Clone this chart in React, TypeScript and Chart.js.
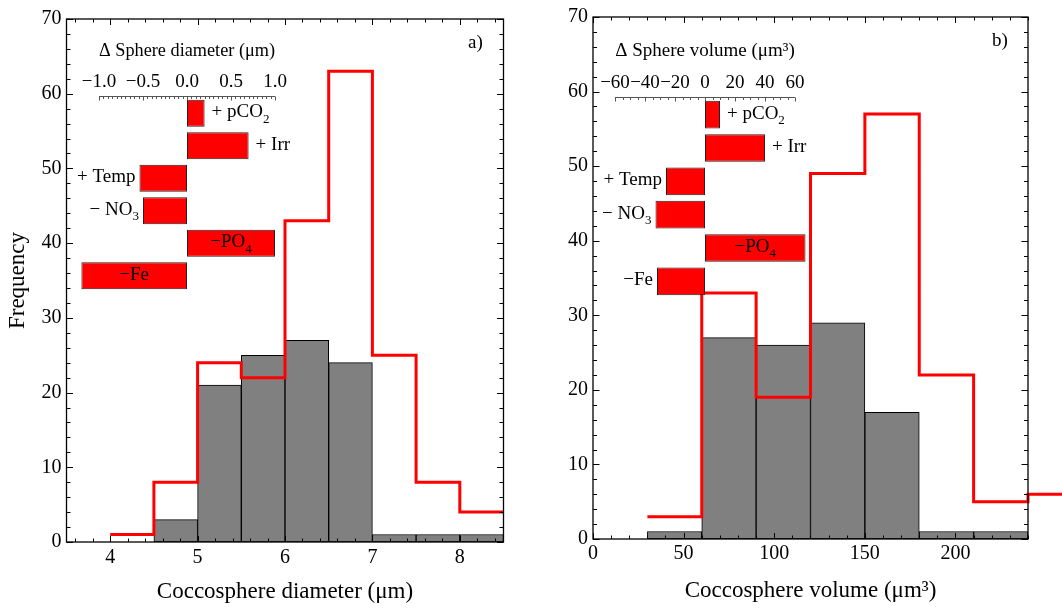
import React, { useEffect, useRef } from 'react';
import { Chart, registerables } from 'chart.js';

Chart.register(...registerables);

const SERIF = '"Liberation Serif", "Times New Roman", serif';

// ---------- Panel a: coccosphere diameter ----------
const diamBinCenters = [4.75, 5.25, 5.75, 6.25, 6.75, 7.25, 7.75, 8.25];
const diamObserved = [3, 21, 25, 27, 24, 1, 1, 1];
const diamModelEdges = [4, 4.5, 5, 5.5, 6, 6.5, 7, 7.5, 8, 8.5];
const diamModel = [1, 8, 24, 22, 43, 63, 25, 8, 4];
const diamXTicks = [4, 5, 6, 7, 8];

// ---------- Panel b: coccosphere volume ----------
const volBinCenters = [45, 75, 105, 135, 165, 195, 225];
const volObserved = [1, 27, 26, 29, 17, 1, 1];
const volModelEdges = [30, 60, 90, 120, 150, 180, 210, 240, 270];
const volModel = [3, 33, 19, 49, 57, 22, 5, 6];
const volXTicks = [0, 50, 100, 150, 200];

const freqTicks = [0, 10, 20, 30, 40, 50, 60, 70];

// ---------- Insets: sensitivity to treatments ----------
const treatments = ['+ pCO_2', '+ Irr', '+ Temp', '− NO_3', '−PO_4', '−Fe'];
const deltaDiameter = [0.2, 0.7, -0.54, -0.5, 1.0, -1.2];
const deltaVolume = [10, 40, -26, -33, 67, -32];
const deltaDiamTicks = [-1, -0.5, 0, 0.5, 1];
const deltaDiamTickLabels = ['−1.0', '−0.5', '0.0', '0.5', '1.0'];
const deltaVolTicks = [-60, -40, -20, 0, 20, 40, 60];
const deltaVolTickLabels = ['−60', '−40', '−20', '0', '20', '40', '60'];
const diamLabelSide = ['right', 'right', 'left', 'left', 'inside', 'inside'];
const volLabelSide = ['right', 'right', 'left', 'left', 'inside', 'left'];

// ---------- layout (positions / sizes) ----------
const layoutA = {
  left: 0, width: 531, height: 608,
  area: { l: 66.5, t: 19, r: 503.5, b: 542 },
  xMin: 3.5, xMax: 8.5, xMinor: 0.2, yMinor: 2,
  xTickPad: 4, xTitlePad: 2, panel: 'a)',
};
const layoutB = {
  left: 531, width: 531, height: 608,
  area: { l: 62, t: 16, r: 497, b: 539 },
  xMin: 0, xMax: 240.001, xMinor: 10, yMinor: 2,
  xTickPad: 3, xTitlePad: 3, panel: 'b)',
};
const insetA = {
  left: 60, top: 30, width: 280, height: 275,
  area: { l: 99, t: 97, r: 275, b: 292 },
  min: -1, max: 1, minor: 0.05,
};
const insetB = {
  left: 585, top: 30, width: 260, height: 280,
  area: { l: 615, t: 98, r: 795, b: 298 },
  min: -60, max: 60, minor: 5,
};
const INSET_FONT = 19;

function drawRich(ctx: any, text: string, x: number, y: number, align: string, size: number) {
  const parts = text.split('_');
  const segs: { t: string; sub: boolean }[] = [{ t: parts[0], sub: false }];
  for (let i = 1; i < parts.length; i++) {
    segs.push({ t: parts[i][0], sub: true });
    if (parts[i].length > 1) segs.push({ t: parts[i].slice(1), sub: false });
  }
  const subSize = Math.round(size * 0.7);
  const fontOf = (s: boolean) => `${s ? subSize : size}px ${SERIF}`;
  let total = 0;
  const widths = segs.map((s) => {
    ctx.font = fontOf(s.sub);
    const w = ctx.measureText(s.t).width;
    total += w;
    return w;
  });
  let cx = align === 'left' ? x : align === 'right' ? x - total : x - total / 2;
  ctx.textAlign = 'left';
  ctx.textBaseline = 'alphabetic';
  segs.forEach((s, i) => {
    ctx.font = fontOf(s.sub);
    ctx.fillText(s.t, cx, s.sub ? y + size * 0.28 : y);
    cx += widths[i];
  });
}

function framePlugin(cfg: any, xMajor: number[], yMajor: number[]) {
  return {
    id: 'frameTicks',
    afterDatasetsDraw(chart: any) {
      const { ctx, chartArea: a } = chart;
      const xs = chart.scales.x;
      const ys = chart.scales.y;
      ctx.save();
      ctx.strokeStyle = '#000';
      ctx.lineWidth = 1;
      ctx.beginPath();
      const k0 = Math.ceil(cfg.xMin / cfg.xMinor - 1e-6);
      const k1 = Math.floor(cfg.xMax / cfg.xMinor + 1e-6);
      for (let k = k0; k <= k1; k++) {
        const v = k * cfg.xMinor;
        const major = xMajor.some((m) => Math.abs(m - v) < cfg.xMinor / 10);
        const len = major ? 6 : 3.5;
        const px = Math.round(xs.getPixelForValue(v)) + 0.5;
        ctx.moveTo(px, a.bottom); ctx.lineTo(px, a.bottom - len);
        ctx.moveTo(px, a.top); ctx.lineTo(px, a.top + len);
      }
      const j1 = Math.floor(ys.max / cfg.yMinor + 1e-6);
      for (let k = 0; k <= j1; k++) {
        const v = k * cfg.yMinor;
        const major = yMajor.some((m) => Math.abs(m - v) < 1e-6);
        const len = major ? 6.5 : 4;
        const py = Math.round(ys.getPixelForValue(v)) + 0.5;
        ctx.moveTo(a.left, py); ctx.lineTo(a.left + len, py);
        ctx.moveTo(a.right, py); ctx.lineTo(a.right - len, py);
      }
      ctx.stroke();
      ctx.lineWidth = 1.3;
      ctx.strokeRect(a.left, a.top, a.right - a.left, a.bottom - a.top);
      ctx.fillStyle = '#000';
      ctx.font = `19px ${SERIF}`;
      ctx.textAlign = 'center';
      ctx.textBaseline = 'middle';
      ctx.fillText(cfg.panel, a.right - 28, a.top + 24);
      ctx.restore();
    },
  };
}

function MainPanel(props: any) {
  const { cfg, centers, observed, edges, model, xTicks, xTitle, yTitle } = props;
  const ref = useRef<HTMLCanvasElement | null>(null);
  useEffect(() => {
    const canvas = ref.current;
    if (!canvas) return;
    const stepPts = edges.map((e: number, i: number) => ({
      x: e,
      y: i < model.length ? model[i] : model[model.length - 1],
    }));
    const bars = centers.map((c: number, i: number) => ({ x: c, y: observed[i] }));
    const chart = new Chart(canvas, {
      type: 'bar',
      data: {
        datasets: [
          {
            type: 'line',
            data: stepPts,
            borderColor: '#ff0000',
            borderWidth: 3,
            pointRadius: 0,
            stepped: 'before',
            fill: false,
            clip: false,
            order: 0,
          } as any,
          {
            type: 'bar',
            data: bars,
            backgroundColor: '#808080',
            borderColor: '#000000',
            borderWidth: 1,
            borderSkipped: false,
            barPercentage: 1,
            categoryPercentage: 1,
            order: 1,
          } as any,
        ],
      },
      options: {
        responsive: false,
        animation: false,
        devicePixelRatio: 1,
        events: [],
        layout: {
          padding: { left: 0, top: cfg.area.t, right: cfg.width - cfg.area.r, bottom: 0 },
        },
        plugins: { legend: { display: false }, tooltip: { enabled: false } },
        scales: {
          x: {
            type: 'linear',
            min: cfg.xMin,
            max: cfg.xMax,
            offset: false,
            grid: { display: false, drawTicks: false },
            border: { display: false },
            afterBuildTicks: (s: any) => { s.ticks = xTicks.map((v: number) => ({ value: v })); },
            afterFit: (s: any) => { s.height = cfg.height - cfg.area.b; },
            ticks: {
              font: { family: SERIF, size: 20 }, color: '#000', padding: cfg.xTickPad,
              maxRotation: 0, minRotation: 0, autoSkip: false,
            },
            title: {
              display: true, text: xTitle, color: '#000',
              font: { family: SERIF, size: 23 }, padding: { top: 0, bottom: cfg.xTitlePad },
            },
          },
          y: {
            type: 'linear',
            min: 0,
            max: 70,
            grid: { display: false, drawTicks: false },
            border: { display: false },
            afterBuildTicks: (s: any) => { s.ticks = freqTicks.map((v) => ({ value: v })); },
            afterFit: (s: any) => { s.width = cfg.area.l; },
            ticks: { font: { family: SERIF, size: 20 }, color: '#000', padding: 5, autoSkip: false },
            title: {
              display: !!yTitle, text: yTitle || '', color: '#000',
              font: { family: SERIF, size: 23 }, padding: { top: 4, bottom: 0 },
            },
          },
        },
      } as any,
      plugins: [framePlugin(cfg, xTicks, freqTicks)],
    });
    return () => chart.destroy();
  }, []);
  return (
    <canvas
      ref={ref}
      width={cfg.width}
      height={cfg.height}
      style={{ position: 'absolute', left: cfg.left, top: 0, width: cfg.width, height: cfg.height }}
    />
  );
}

function insetPlugin(cfg: any, majors: number[], sides: string[], labels: string[]) {
  return {
    id: 'insetDecor',
    afterDatasetsDraw(chart: any) {
      const { ctx, chartArea: a } = chart;
      const xs = chart.scales.x;
      ctx.save();
      ctx.strokeStyle = '#555';
      ctx.lineWidth = 1;
      ctx.beginPath();
      const y0 = Math.round(a.top) - 0.5;
      ctx.moveTo(xs.getPixelForValue(cfg.min), y0);
      ctx.lineTo(xs.getPixelForValue(cfg.max), y0);
      const k0 = Math.ceil(cfg.min / cfg.minor - 1e-6);
      const k1 = Math.floor(cfg.max / cfg.minor + 1e-6);
      for (let k = k0; k <= k1; k++) {
        const v = k * cfg.minor;
        const major = majors.some((m) => Math.abs(m - v) < cfg.minor / 10);
        const px = Math.round(xs.getPixelForValue(v)) + 0.5;
        ctx.moveTo(px, y0);
        ctx.lineTo(px, y0 + (major ? 4 : 2.5));
      }
      ctx.stroke();
      ctx.fillStyle = '#000';
      const meta = chart.getDatasetMeta(0);
      meta.data.forEach((bar: any, i: number) => {
        const p = bar.getProps(['x', 'base', 'y'], true);
        const lo = Math.min(p.x, p.base);
        const hi = Math.max(p.x, p.base);
        const ty = p.y + 4;
        const side = sides[i];
        if (side === 'right') drawRich(ctx, labels[i], hi + 7, ty, 'left', INSET_FONT);
        else if (side === 'left') drawRich(ctx, labels[i], lo - 4, ty, 'right', INSET_FONT);
        else drawRich(ctx, labels[i], (lo + hi) / 2, ty, 'center', INSET_FONT);
      });
      ctx.restore();
    },
  };
}

function Inset(props: any) {
  const { cfg, values, ticks, tickLabels, sides, title } = props;
  const ref = useRef<HTMLCanvasElement | null>(null);
  useEffect(() => {
    const canvas = ref.current;
    if (!canvas) return;
    const chart = new Chart(canvas, {
      type: 'bar',
      data: {
        labels: treatments,
        datasets: [
          {
            data: values,
            backgroundColor: '#ff0000',
            borderColor: '#222222',
            borderWidth: 1,
            borderSkipped: false,
            barPercentage: 0.83,
            categoryPercentage: 1,
            clip: false,
          } as any,
        ],
      },
      options: {
        indexAxis: 'y',
        responsive: false,
        animation: false,
        devicePixelRatio: 1,
        events: [],
        layout: {
          padding: {
            left: cfg.area.l - cfg.left,
            right: cfg.left + cfg.width - cfg.area.r,
            top: 0,
            bottom: cfg.top + cfg.height - cfg.area.b,
          },
        },
        plugins: { legend: { display: false }, tooltip: { enabled: false } },
        scales: {
          x: {
            type: 'linear',
            position: 'top',
            min: cfg.min,
            max: cfg.max,
            grid: { display: false, drawTicks: false },
            border: { display: false },
            afterBuildTicks: (s: any) => { s.ticks = ticks.map((v: number) => ({ value: v })); },
            afterFit: (s: any) => { s.height = cfg.area.t - cfg.top; },
            ticks: {
              font: { family: SERIF, size: INSET_FONT }, color: '#000', padding: 4,
              maxRotation: 0, minRotation: 0, autoSkip: false,
              callback: (_v: any, i: number) => tickLabels[i],
            },
            title: {
              display: true, text: title, color: '#000',
              font: { family: SERIF, size: INSET_FONT }, padding: { top: 10, bottom: 0 },
            },
          },
          y: { type: 'category', display: false },
        },
      } as any,
      plugins: [insetPlugin(cfg, ticks, sides, treatments)],
    });
    return () => chart.destroy();
  }, []);
  return (
    <canvas
      ref={ref}
      width={cfg.width}
      height={cfg.height}
      style={{ position: 'absolute', left: cfg.left, top: cfg.top, width: cfg.width, height: cfg.height }}
    />
  );
}

export default function App() {
  return (
    <div
      style={{
        position: 'fixed', left: 0, top: 0, width: 1062, height: 608,
        background: '#ffffff', overflow: 'hidden',
      }}
    >
      <MainPanel
        cfg={layoutA}
        centers={diamBinCenters}
        observed={diamObserved}
        edges={diamModelEdges}
        model={diamModel}
        xTicks={diamXTicks}
        xTitle="Coccosphere diameter (μm)"
        yTitle="Frequency"
      />
      <MainPanel
        cfg={layoutB}
        centers={volBinCenters}
        observed={volObserved}
        edges={volModelEdges}
        model={volModel}
        xTicks={volXTicks}
        xTitle="Coccosphere volume (μm³)"
      />
      <Inset
        cfg={insetA}
        values={deltaDiameter}
        ticks={deltaDiamTicks}
        tickLabels={deltaDiamTickLabels}
        sides={diamLabelSide}
        title="Δ Sphere diameter (μm)"
      />
      <Inset
        cfg={insetB}
        values={deltaVolume}
        ticks={deltaVolTicks}
        tickLabels={deltaVolTickLabels}
        sides={volLabelSide}
        title="Δ Sphere volume (μm³)"
      />
    </div>
  );
}
